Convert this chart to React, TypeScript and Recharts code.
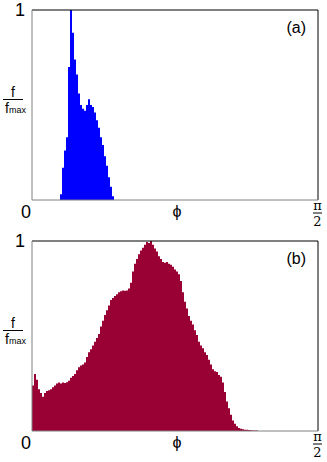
import { Area, AreaChart, ReferenceLine, XAxis, YAxis } from "recharts";

// phi is measured in units of pi/2, so the axis runs 0..1
// histogram bins: 143 bins across [0, pi/2]
const BIN_COUNT = 143;
const BIN = 1 / BIN_COUNT;

// panel (a): first bin index, then f/fmax per bin
const A_START_BIN = 13;
const A_VALUES = [
  0, 0.03, 0.17, 0.26, 0.33, 0.7, 1.0, 0.88, 0.74, 0.66, 0.56, 0.5, 0.48, 0.47,
  0.5, 0.53, 0.5, 0.49, 0.46, 0.42, 0.38, 0.33, 0.29, 0.23, 0.18, 0.12, 0.07,
  0.02, 0,
];

// panel (b)
const B_START_BIN = 0;
const B_VALUES = [
  0.24, 0.3, 0.27, 0.22, 0.2, 0.18, 0.2, 0.21, 0.215, 0.22, 0.23, 0.24, 0.25,
  0.255, 0.25, 0.255, 0.252, 0.256, 0.265, 0.28, 0.29, 0.3, 0.32, 0.335, 0.345,
  0.35, 0.36, 0.39, 0.415, 0.43, 0.45, 0.47, 0.49, 0.51, 0.55, 0.58, 0.61,
  0.635, 0.66, 0.69, 0.7, 0.71, 0.72, 0.73, 0.735, 0.74, 0.738, 0.74, 0.75,
  0.78, 0.84, 0.88, 0.905, 0.93, 0.95, 0.965, 0.98, 0.995, 0.99, 1.0, 0.98,
  0.96, 0.945, 0.92, 0.905, 0.89, 0.885, 0.89, 0.88, 0.875, 0.865, 0.85, 0.84,
  0.825, 0.79, 0.73, 0.68, 0.645, 0.605, 0.58, 0.56, 0.53, 0.505, 0.47, 0.45,
  0.435, 0.415, 0.4, 0.375, 0.35, 0.325, 0.315, 0.31, 0.295, 0.285, 0.255,
  0.205, 0.155, 0.12, 0.085, 0.055, 0.038, 0.025, 0.016, 0.012, 0.009, 0.007,
  0.006, 0.005, 0.004, 0.003, 0.003, 0.002, 0,
];

const X_TICKS = [0, 0.5, 1];
const FONT = "'Liberation Sans', Arial, sans-serif";

function toRows(start: number, values: number[]) {
  return values.map((f, i) => ({ phi: (start + i) * BIN, f }));
}

function PhiTick({ x, y, payload }: any) {
  const v = payload.value;
  if (v === 0) {
    return (
      <text x={x - 6} y={y + 18} textAnchor="middle" fontSize={18} fill="#000" fontFamily={FONT}>
        0
      </text>
    );
  }
  if (v === 1) {
    return (
      <g fontFamily="'DejaVu Serif', serif" fill="#000">
        <text x={x - 0.5} y={y + 10} textAnchor="middle" fontSize={13}>π</text>
        <line x1={x - 5} x2={x + 4} y1={y + 13} y2={y + 13} stroke="#000" strokeWidth={1} />
        <text x={x - 0.5} y={y + 26} textAnchor="middle" fontSize={13}>2</text>
      </g>
    );
  }
  return (
    <text x={x + 2} y={y + 17} textAnchor="middle" fontSize={16} fill="#000" fontFamily={FONT}>
      ϕ
    </text>
  );
}

function OneTick({ x, y }: any) {
  return (
    <text x={x - 7} y={y + 6} textAnchor="end" fontSize={18} fill="#000" fontFamily={FONT}>
      1
    </text>
  );
}

function FracLabel({ viewBox }: any) {
  const cx = viewBox.x + 13;
  const cy = viewBox.y + viewBox.height / 2;
  return (
    <g fontFamily={FONT} fill="#000">
      <text x={cx} y={cy - 8} textAnchor="middle" fontSize={14}>f</text>
      <line x1={cx - 10} x2={cx + 10} y1={cy - 5.5} y2={cy - 5.5} stroke="#000" strokeWidth={1} />
      <text x={cx - 8} y={cy + 8} fontSize={14}>
        f<tspan fontSize={9}>max</tspan>
      </text>
    </g>
  );
}

function Panel({ rows, color, tag }: { rows: { phi: number; f: number }[]; color: string; tag: string }) {
  return (
    <AreaChart width={327} height={231} data={rows} margin={{ top: 10, right: 9, left: 0, bottom: 0 }}>
      <XAxis
        dataKey="phi"
        type="number"
        domain={[0, 1]}
        ticks={X_TICKS}
        interval={0}
        tick={<PhiTick />}
        tickLine={false}
        tickSize={0}
        tickMargin={0}
        height={31}
        stroke="#808080"
        allowDataOverflow
      />
      <YAxis
        type="number"
        domain={[0, 1]}
        ticks={[1]}
        tick={<OneTick />}
        tickLine={false}
        tickSize={0}
        tickMargin={0}
        width={32}
        stroke="#808080"
        label={{ content: (p: any) => <FracLabel {...p} /> }}
      />
      <Area
        type="stepAfter"
        dataKey="f"
        stroke="none"
        fill={color}
        fillOpacity={1}
        isAnimationActive={false}
      />
      <ReferenceLine
        y={1}
        stroke="#000"
        label={{ value: tag, position: "insideTopRight", offset: 12, fontSize: 16, fill: "#000", fontFamily: FONT }}
      />
      <ReferenceLine x={1} stroke="#000" />
    </AreaChart>
  );
}

export default function App() {
  return (
    <div style={{ position: "absolute", top: 0, left: 0, width: 327, height: 462, background: "#fff" }}>
      <Panel rows={toRows(A_START_BIN, A_VALUES)} color="#0000ff" tag="(a)" />
      <Panel rows={toRows(B_START_BIN, B_VALUES)} color="#990033" tag="(b)" />
    </div>
  );
}
